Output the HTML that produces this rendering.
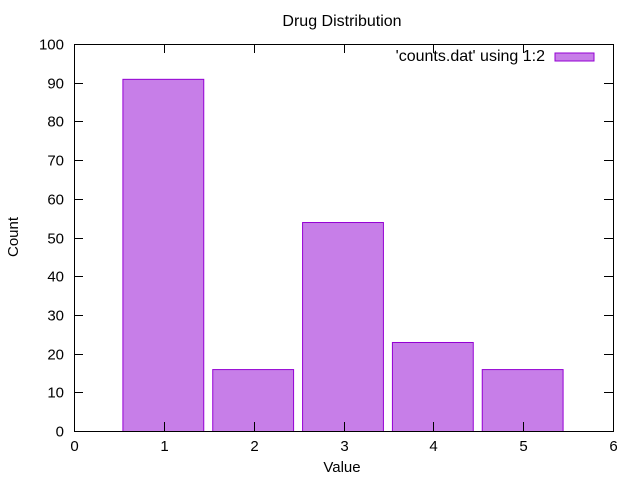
<!DOCTYPE html>
<html><head><meta charset="utf-8">
<style>
html,body{margin:0;padding:0;background:#fff;}
svg{display:block;font-family:"Liberation Sans",sans-serif;}
</style></head>
<body>
<svg id="chart" width="640" height="480" viewBox="0 0 640 480" xmlns="http://www.w3.org/2000/svg">
<text x="342" y="26" font-size="16" text-anchor="middle">Drug Distribution</text>
<text x="18" y="237" font-size="15" text-anchor="middle" transform="rotate(-90 18 237)">Count</text>
<text x="342" y="472" font-size="15" text-anchor="middle">Value</text>
<g id="bars"></g>
<g id="axes"></g>
<g>
<text x="545" y="61" font-size="16" text-anchor="end">'counts.dat' using 1:2</text>
<rect x="555" y="53" width="39" height="8" fill="#c77ee8" stroke="#9400d3" stroke-width="1"/>
</g>
</svg>
<script>
const categories = [1, 2, 3, 4, 5];
const counts = [91, 16, 54, 23, 16];
const xTicks = [0, 1, 2, 3, 4, 5, 6];
const yTicks = [0, 10, 20, 30, 40, 50, 60, 70, 80, 90, 100];

const L = 74, R = 613, T = 44, B = 431;
const xMin = 0, xMax = 6, yMin = 0, yMax = 100, barW = 0.9;
const sx = v => L + (v - xMin) / (xMax - xMin) * (R - L);
const sy = v => B - (v - yMin) / (yMax - yMin) * (B - T);
const NS = "http://www.w3.org/2000/svg";
const bars = document.getElementById('bars');
const axes = document.getElementById('axes');

categories.forEach((c, i) => {
  const r = document.createElementNS(NS, 'rect');
  const x0 = sx(c - barW / 2), x1 = sx(c + barW / 2), y0 = sy(counts[i]);
  r.setAttribute('x', x0 - 0.5); r.setAttribute('y', y0 + 0.5);
  r.setAttribute('width', x1 - x0); r.setAttribute('height', B - y0);
  r.setAttribute('fill', '#c77ee8'); r.setAttribute('stroke', '#9400d3');
  
  
  bars.appendChild(r);
});

function line(x1, y1, x2, y2) {
  const l = document.createElementNS(NS, 'line');
  l.setAttribute('x1', x1); l.setAttribute('y1', y1);
  l.setAttribute('x2', x2); l.setAttribute('y2', y2);
  l.setAttribute('stroke', '#000'); l.setAttribute('stroke-width', '1');
  axes.appendChild(l);
  return l;
}
const frame = document.createElementNS(NS, 'rect');
frame.setAttribute('x', L + 0.5); frame.setAttribute('y', T + 0.5);
frame.setAttribute('width', R - L); frame.setAttribute('height', B - T);
frame.setAttribute('fill', 'none'); frame.setAttribute('stroke', '#000');


axes.appendChild(frame);

yTicks.forEach(v => {
  const y = Math.round(sy(v)) + 0.5;
  line(L, y, L + 9, y); line(R - 9, y, R, y);
  const t = document.createElementNS(NS, 'text');
  t.setAttribute('x', L - 10); t.setAttribute('y', y + 5);
  t.setAttribute('font-size', '15'); t.setAttribute('text-anchor', 'end');
  t.textContent = v;
  
  
  axes.appendChild(t);
});
xTicks.forEach(v => {
  const x = Math.round(sx(v)) + 0.5;
  line(x, B, x, B - 9); line(x, T, x, T + 9);
  const t = document.createElementNS(NS, 'text');
  t.setAttribute('x', x); t.setAttribute('y', B + 20);
  t.setAttribute('font-size', '15'); t.setAttribute('text-anchor', 'middle');
  t.textContent = v;
  
  
  axes.appendChild(t);
});
</script>
</body></html>
